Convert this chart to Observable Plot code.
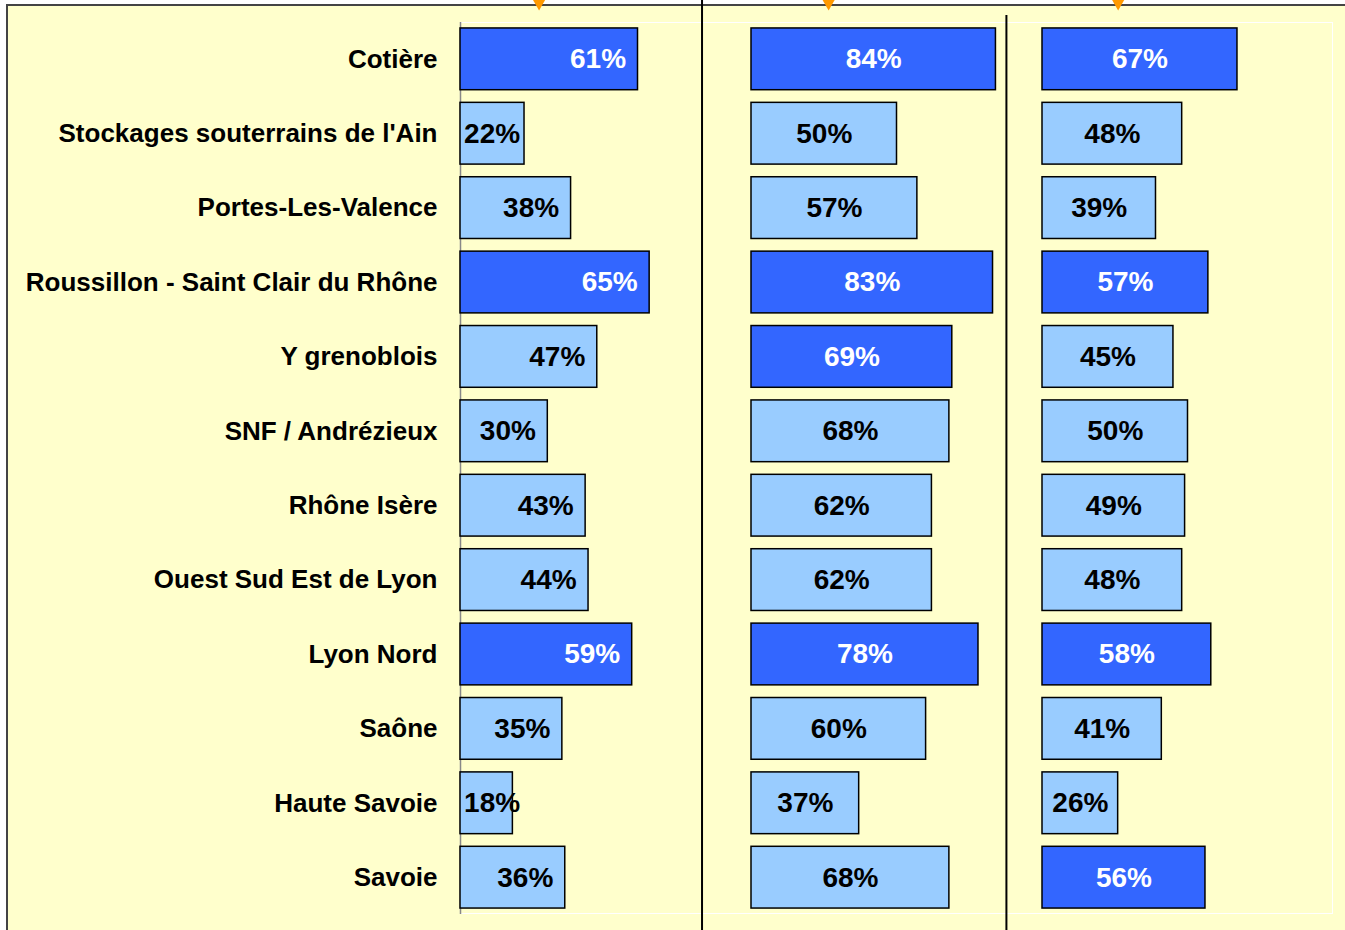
<!DOCTYPE html>
<html><head><meta charset="utf-8">
<script src="https://cdn.jsdelivr.net/npm/d3@7"></script>
<script src="https://cdn.jsdelivr.net/npm/@observablehq/plot@0.6"></script>
<style>
html,body{margin:0;padding:0;background:#fff;}
#wrap{position:relative;width:1345px;height:930px;overflow:hidden;}
#bg{position:absolute;left:6px;top:4px;right:-10px;bottom:-10px;background:#FFFFCC;border-top:2px solid #444;border-left:2px solid #444;}
#box{position:absolute;left:460px;top:22px;width:873px;height:892px;border:1.5px solid #fff;box-sizing:border-box;}
#chart{position:absolute;left:0;top:0;}
</style></head>
<body><div id="wrap"><div id="bg"></div><div id="box"></div><div id="chart"></div></div>
<script>
const categories = ["Cotière","Stockages souterrains de l'Ain","Portes-Les-Valence","Roussillon - Saint Clair du Rhône","Y grenoblois","SNF / Andrézieux","Rhône Isère","Ouest Sud Est de Lyon","Lyon Nord","Saône","Haute Savoie","Savoie"];
const series = ["Série 1","Série 2","Série 3"];
const values1 = [61,22,38,65,47,30,43,44,59,35,18,36];
const values2 = [84,50,57,83,69,68,62,62,78,60,37,68];
const values3 = [67,48,39,57,45,50,49,48,58,41,26,56];
const highlight1 = [true,false,false,true,false,false,false,false,true,false,false,false];
const highlight2 = [true,false,false,true,true,false,false,false,true,false,false,false];
const highlight3 = [true,false,false,true,false,false,false,false,true,false,false,true];
const markerPositions = [27, 26.5, 26];
const separators1 = [{serie:"Série 1", x:83.0}];
const separators2 = [{serie:"Série 2", x:87.6}];

const allValues = [values1, values2, values3];
const allHighlights = [highlight1, highlight2, highlight3];
const rows = [];
series.forEach((s, i) => categories.forEach((c, j) => rows.push({serie:s, category:c, value:allValues[i][j], dark:allHighlights[i][j]})));
const markers = series.map((s, i) => ({serie:s, x:markerPositions[i]}));

const DARK = "#3366FF", LIGHT = "#99CCFF";

const chart = Plot.plot({
  width:1345, height:930,
  marginLeft:460, marginRight:12, marginTop:22, marginBottom:16,
  style:{background:"transparent", fontFamily:"'Liberation Sans', Arial, sans-serif", fontSize:"26px", fontWeight:"bold", color:"#000", overflow:"visible"},
  fx:{domain:series, padding:0, axis:null},
  x:{domain:[0,100], axis:null},
  y:{domain:categories, paddingInner:0.17, paddingOuter:0.08, round:false, tickSize:0, tickPadding:23, label:null},
  color:{type:"identity"},
  marks:[
    Plot.ruleX([{serie:series[0]}], {fx:"serie", x:0, stroke:"#888", strokeWidth:1.5}),
    Plot.barX(rows, {fx:"serie", y:"category", x:"value", fill:d => d.dark ? DARK : LIGHT, stroke:"#000", strokeWidth:1.5}),
    Plot.text(rows.filter(d => d.serie === series[0]), {fx:"serie", y:"category", x:d => Math.max(d.value - 4.1, 20.5), textAnchor:"end", fontSize:28, text:d => d.value + "%", fill:d => d.dark ? "#fff" : "#000"}),
    Plot.text(rows.filter(d => d.serie !== series[0]), {fx:"serie", y:"category", x:d => d.value / 2, textAnchor:"middle", fontSize:28, text:d => d.value + "%", fill:d => d.dark ? "#fff" : "#000"}),
    Plot.ruleX(separators1, {fx:"serie", x:"x", stroke:"#000", strokeWidth:2, insetTop:-22, insetBottom:-16}),
    Plot.ruleX(separators2, {fx:"serie", x:"x", stroke:"#000", strokeWidth:2, insetTop:-7, insetBottom:-16}),
    Plot.dot(markers, {fx:"serie", x:"x", frameAnchor:"top", dy:-19, symbol:"triangle", rotate:180, r:4.5, fill:"#FF9900", stroke:"none"})
  ]
});
document.getElementById("chart").appendChild(chart);
</script>
</body></html>
